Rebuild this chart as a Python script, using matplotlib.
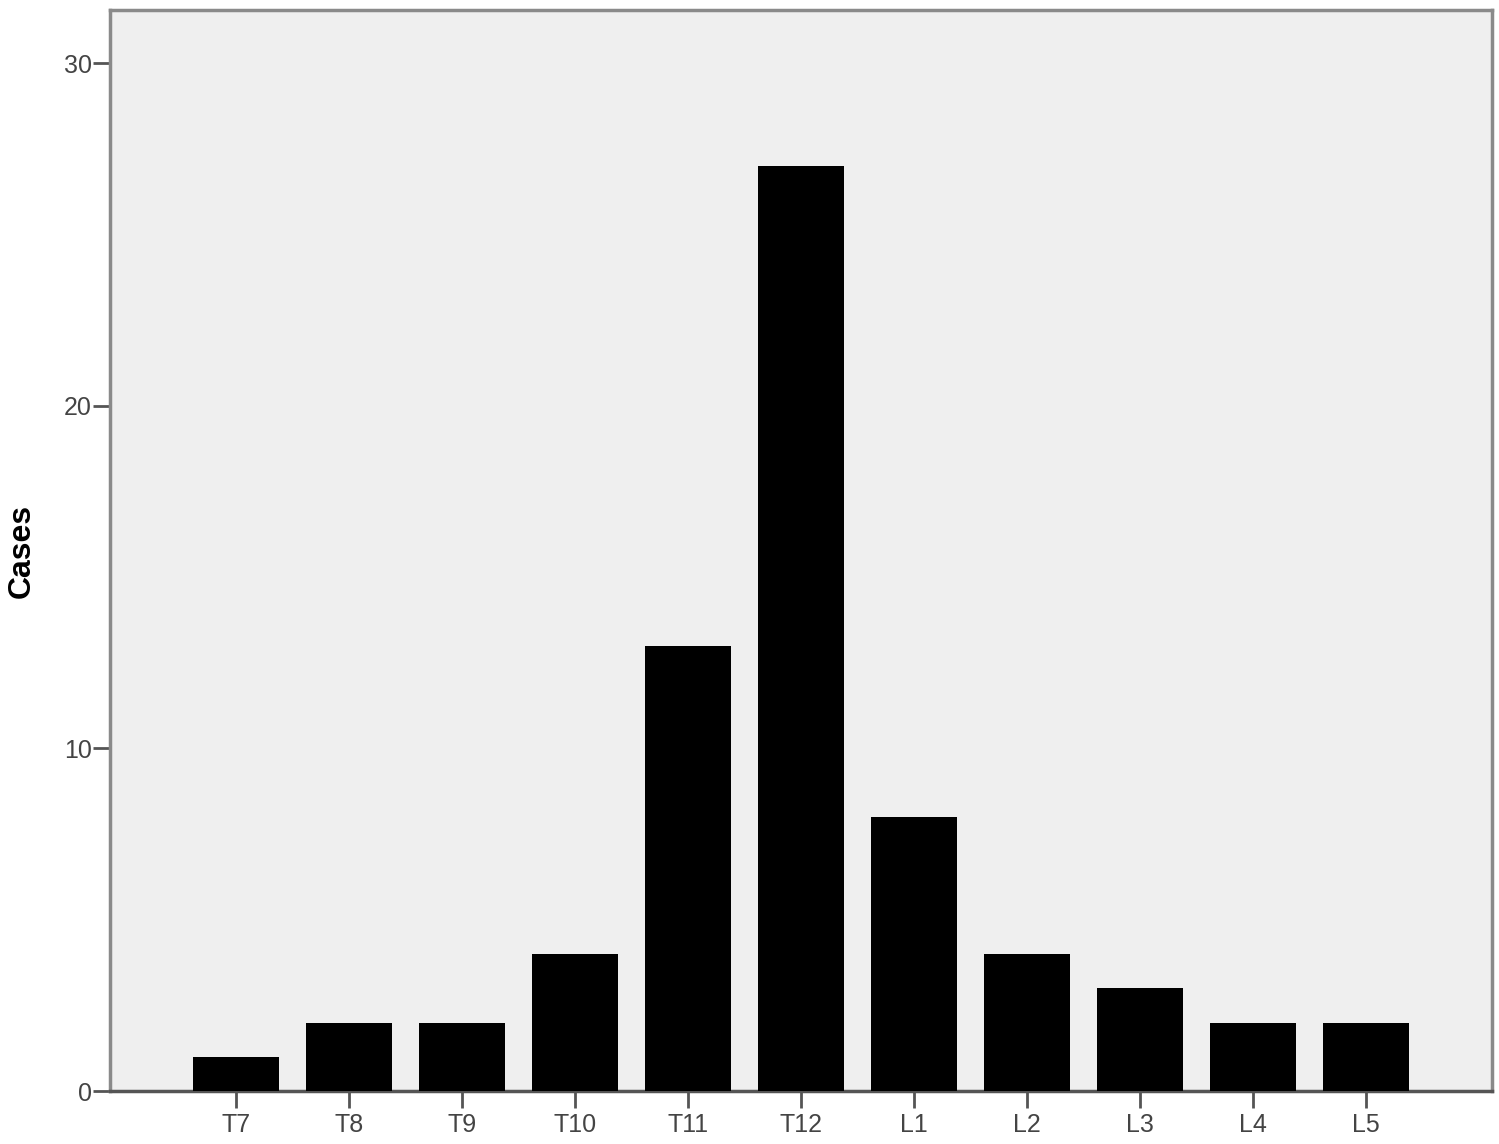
import matplotlib.pyplot as plt

levels = ['T7', 'T8', 'T9', 'T10', 'T11', 'T12', 'L1', 'L2', 'L3', 'L4', 'L5']
cases = [1, 2, 2, 4, 13, 27, 8, 4, 3, 2, 2]
y_ticks = [0, 10, 20, 30]

plt.rcParams['font.family'] = ['Liberation Sans', 'DejaVu Sans']

fig = plt.figure(figsize=(14.99, 11.44), dpi=100)
ax = fig.add_axes([0.0734, 0.0463, 0.9219, 0.945])
ax.set_facecolor('#efefef')

x = list(range(len(levels)))
ax.bar(x, cases, width=0.76, color='black', zorder=3)

ax.set_xlim(-1.115, len(levels) - 1 + 1.115)
ax.set_ylim(0, 31.55)
ax.set_xticks(x)
ax.set_xticklabels(levels)
ax.set_yticks(y_ticks)
ax.tick_params(axis='both', direction='out', length=12, width=2, color='#555555',
               labelsize=18, labelcolor='#444444')
ax.tick_params(axis='x', pad=4)
ax.tick_params(axis='y', pad=1)

for side in ['left', 'top', 'right']:
    ax.spines[side].set_color('#8a8a8a')
    ax.spines[side].set_linewidth(2.5)
ax.spines['bottom'].set_color('#555555')
ax.spines['bottom'].set_linewidth(2.5)

ax.set_ylabel('Cases', fontsize=23, fontweight='bold')
ax.yaxis.set_label_coords(-0.053, 0.5)

fig.savefig('out.png', dpi=100)
